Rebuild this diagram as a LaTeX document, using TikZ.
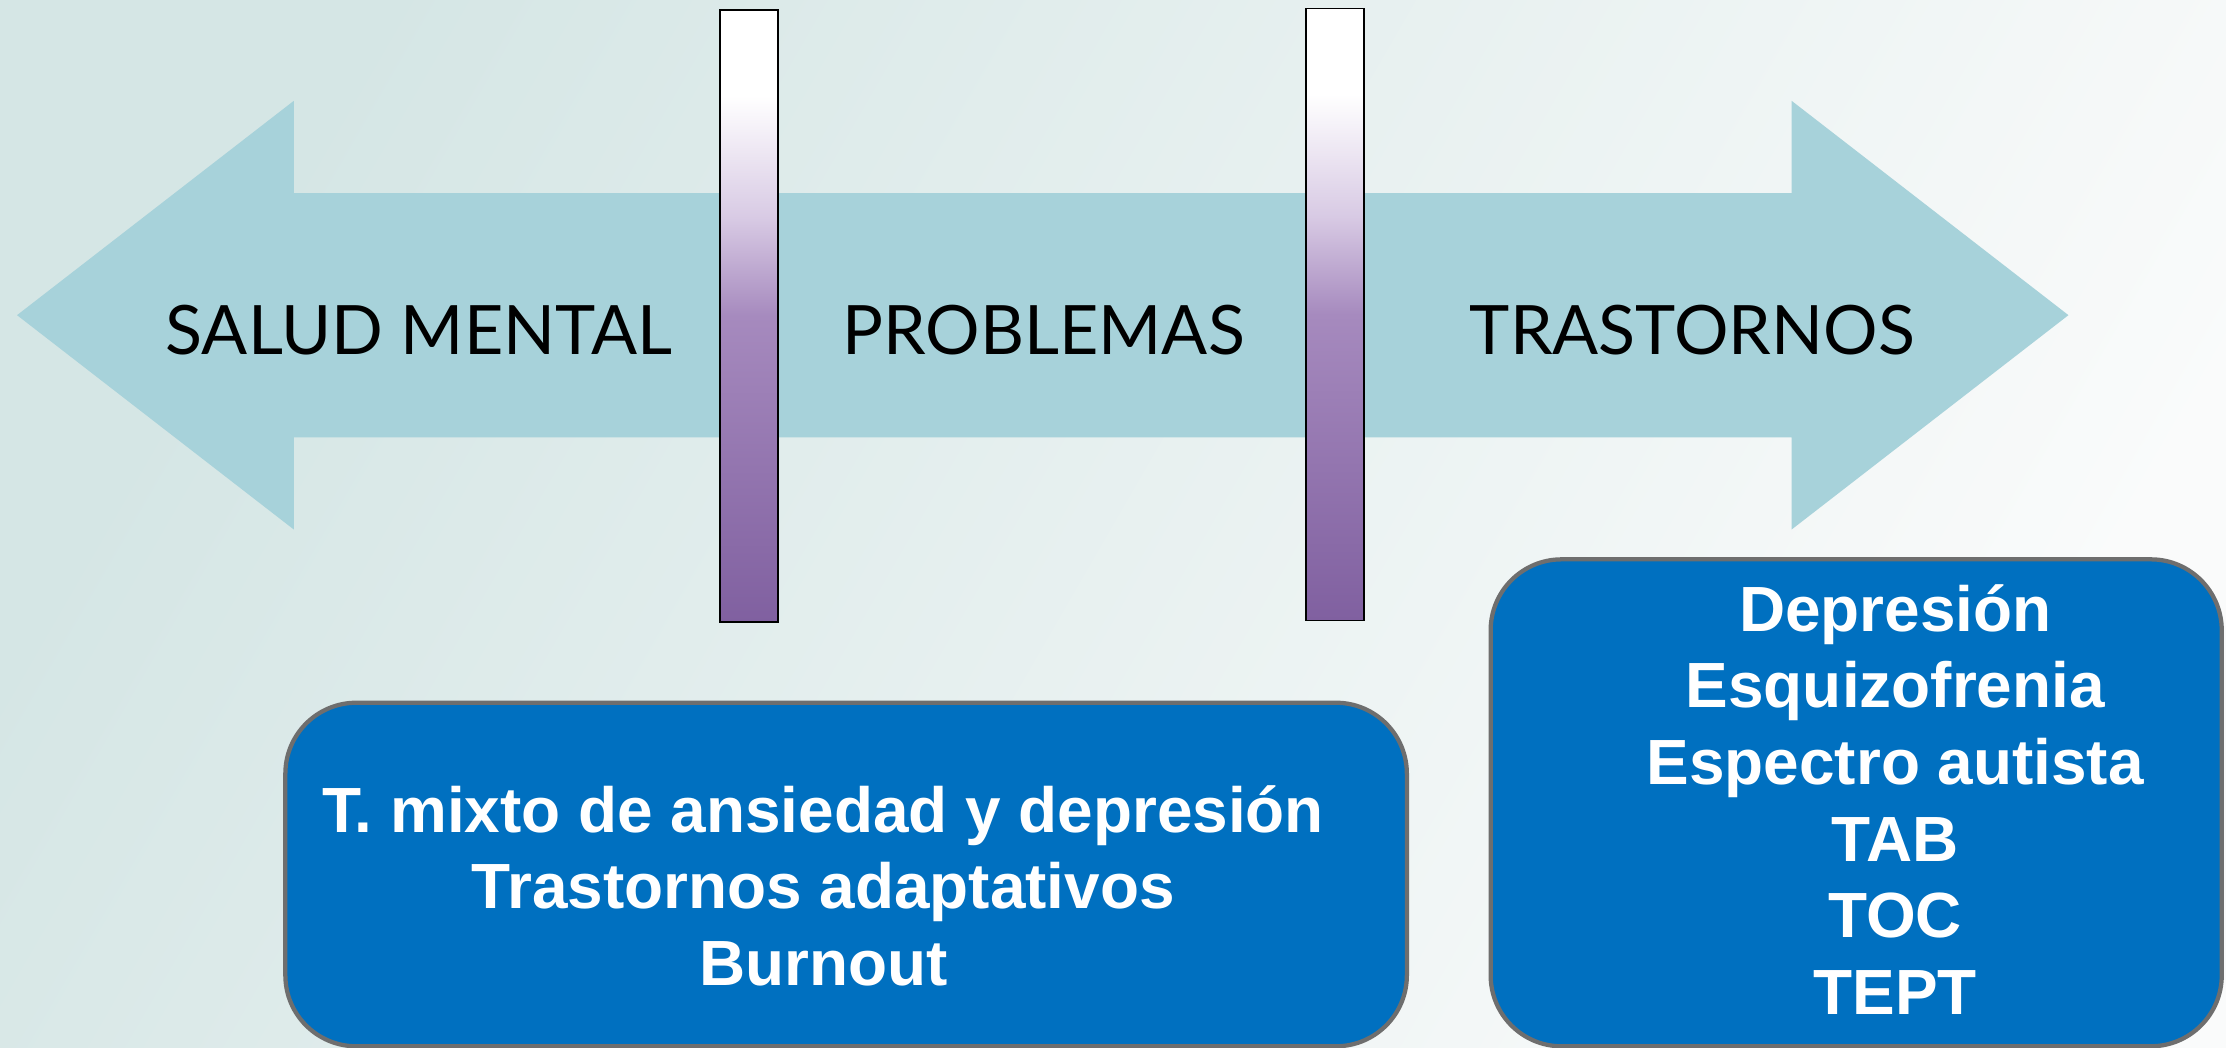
\documentclass[tikz,border=0pt]{standalone}
\usepackage{fontspec}
\setmainfont{Liberation Sans}
\newfontfamily\stagefont{Lato}
\usetikzlibrary{positioning}

\definecolor{arrowteal}{RGB}{167,210,218}
\definecolor{boxblue}{RGB}{0,112,192}
\definecolor{boxgray}{RGB}{110,110,110}
\definecolor{barpurple}{RGB}{128,96,160}
\definecolor{barmid}{RGB}{166,138,190}
\definecolor{barlight}{RGB}{216,202,228}
\definecolor{bgleft}{RGB}{213,230,229}
\definecolor{bgright}{RGB}{250,251,251}

\pgfdeclareverticalshading{barfade}{100bp}{color(0bp)=(barpurple); color(25bp)=(barpurple);
  color(50bp)=(barmid); color(58bp)=(barlight); color(68bp)=(white); color(100bp)=(white)}

\tikzstyle{bar} = [rectangle, draw=black, line width=0.6pt, shade, shading=barfade,
    minimum width=20.5pt, minimum height=215.5pt, inner sep=0pt]
\tikzstyle{stage} = [font=\stagefont\fontsize{24}{28}\selectfont, anchor=base, inner sep=0pt]
\tikzstyle{panel} = [rectangle, rounded corners=25pt, fill=boxblue, draw=boxgray,
    line width=1.5pt, inner sep=0pt]
\tikzstyle{items} = [text=white, font=\bfseries\fontsize{22.5}{27}\selectfont, align=center, inner sep=0pt]

\begin{document}
\begin{tikzpicture}[x=0.5pt,y=-0.5pt]
  \useasboundingbox (0,0) rectangle (1568,738);
  \shade[left color=bgleft, right color=bgright, shading angle=60] (0,0) rectangle (1568,738);

  % double arrow
  \fill[arrowteal] (12,222) -- (207,71) -- (207,136) -- (1262,136) -- (1262,71) -- (1457,222)
    -- (1262,373) -- (1262,308) -- (207,308) -- (207,373) -- cycle;

  \node[stage] (salud) at (295,250) {SALUD MENTAL};
  \node[stage] (problemas) at (735,250) {PROBLEMAS};
  \node[stage] (trastornos) at (1192,250) {TRASTORNOS};

  \node[bar] (bar1) at (527.5,222.5) {};
  \node[bar] (bar2) at (940.5,221.5) {};

  \node[panel, minimum width=395pt, minimum height=121pt] (mixed) at (596,616) {};
  \node[panel, minimum width=257.5pt, minimum height=171.5pt] (disorders) at (1307.5,565.5) {};

  \node[items] (mixedtext) at (580,624) {T. mixto de ansiedad y depresión\\Trastornos adaptativos\\Burnout};
  \node[items] (disordertext) at (1335,563) {Depresión\\Esquizofrenia\\Espectro autista\\TAB\\TOC\\TEPT};
\end{tikzpicture}
\end{document}
